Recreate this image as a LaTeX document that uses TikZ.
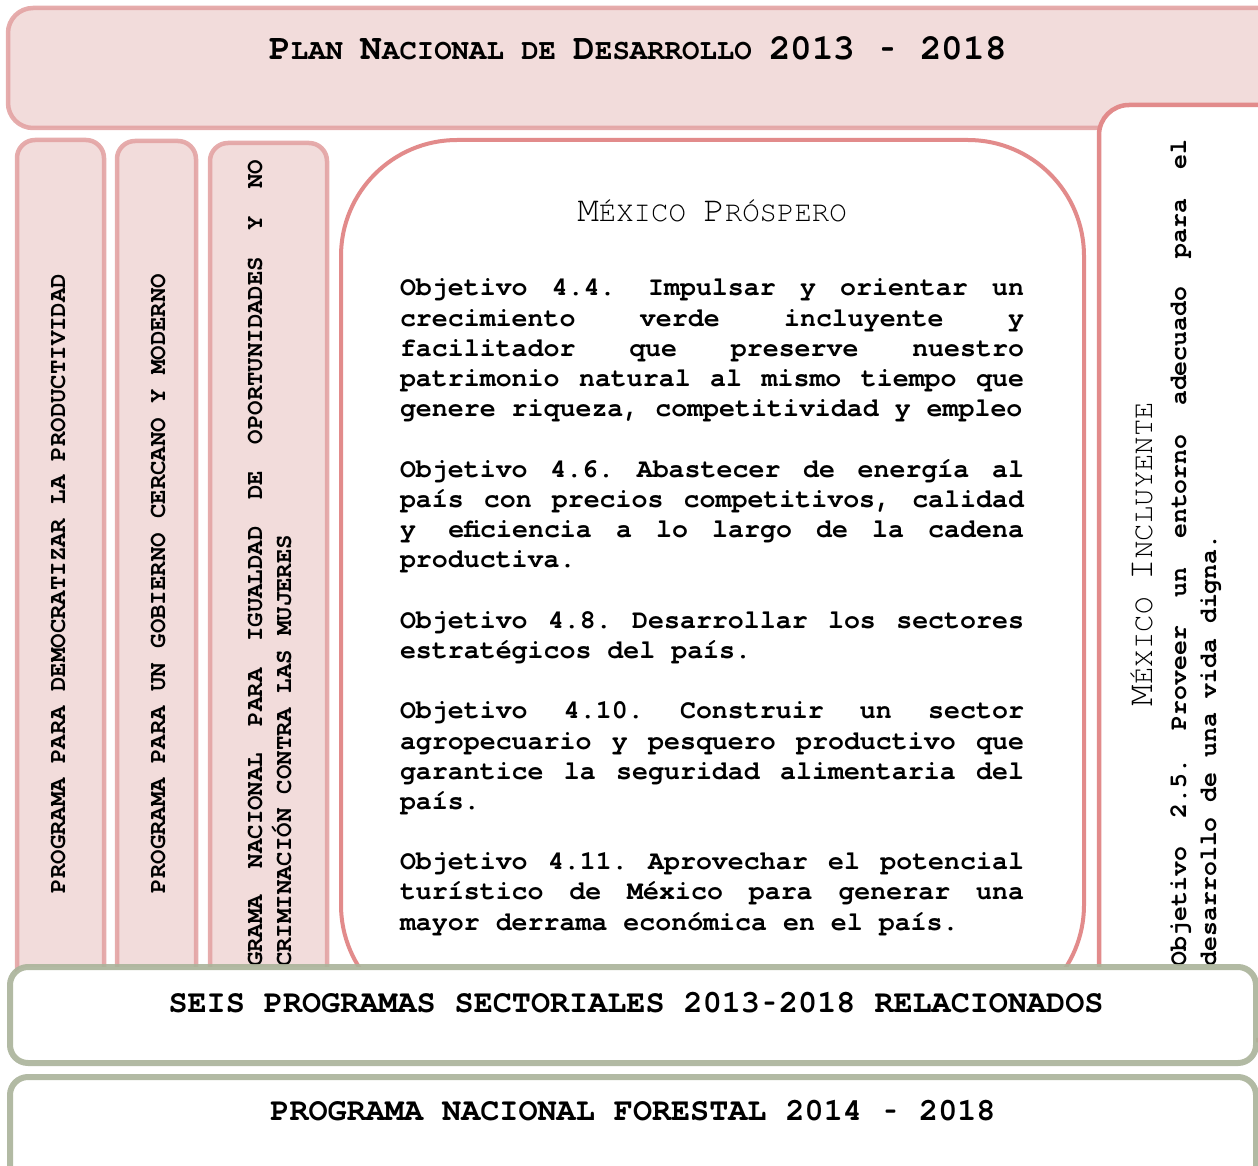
\documentclass[tikz,border=0pt]{standalone}
\usepackage{fontspec}
\newfontfamily\cour{texgyrecursor}[Extension=.otf, UprightFont=*-regular, BoldFont=*-bold, ItalicFont=*-italic, BoldItalicFont=*-bolditalic]
\definecolor{pinkfill}{HTML}{F2DCDB}
\definecolor{pinkline}{HTML}{E3A3A3}
\definecolor{midline}{HTML}{E28B8B}
\definecolor{greenline}{HTML}{AAB39A}
\newcommand\JL[2]{\hbox to #1{\spaceskip=0.6em plus 1fil\xspaceskip=0.6em plus 1fil\relax #2}}
\newcommand\NL[2]{\hbox to #1{#2\hfil}}
\newcommand\CapT[1]{{\fontsize{36}{36}\selectfont #1}}
\newcommand\hy{\hbox to 0.6em{\hss\scalebox{0.6}[1]{-}\hss}}
\tikzset{
  pinkbox/.style={fill=pinkfill, draw=pinkline, line width=4.5pt, draw opacity=0.9},
  whitebox/.style={fill=white, draw=midline, line width=4pt},
  greenbox/.style={fill=white, draw=greenline, line width=6pt, draw opacity=0.9, rounded corners=18pt},
  txt/.style={inner sep=0pt, outer sep=0pt},
}
\begin{document}
\begin{tikzpicture}[x=1pt,y=-1pt]
\useasboundingbox (0,0) rectangle (1258,1166);
\clip (0,0) rectangle (1258,1166);
% top box
\draw[pinkbox, rounded corners=25pt] (8,8) rectangle (1290,128);
\node[txt, anchor=base, font=\cour\bfseries\fontsize{29}{29}\selectfont] (title) at (638,60)
  {\CapT{P}LAN \CapT{N}ACIONAL DE \CapT{D}ESARROLLO \CapT{2013 \hy{} 2018}};
% columns
\draw[pinkbox, rounded corners=18pt] (17,140) rectangle (104,1050);
\draw[pinkbox, rounded corners=18pt] (117,141) rectangle (196,1050);
\draw[pinkbox, rounded corners=18pt] (210,143) rectangle (327,1050);
\node[txt, rotate=90, anchor=base west, font=\cour\bfseries\fontsize{24}{28}\selectfont] (c1) at (65,893)
  {PROGRAMA PARA DEMOCRATIZAR LA PRODUCTIVIDAD};
\node[txt, rotate=90, anchor=base west, font=\cour\bfseries\fontsize{24}{28}\selectfont] (c2) at (165,893)
  {PROGRAMA PARA UN GOBIERNO CERCANO Y MODERNO};
\node[txt, rotate=90, anchor=base west, font=\cour\bfseries\fontsize{24}{28}\selectfont] (c3a) at (262,1010)
  {\JL{850pt}{PROGRAMA NACIONAL PARA IGUALDAD DE OPORTUNIDADES Y NO}};
\node[txt, rotate=90, anchor=base west, font=\cour\bfseries\fontsize{24}{28}\selectfont] (c3b) at (291,1010)
  {\NL{850pt}{DISCRIMINACIÓN CONTRA LAS MUJERES}};
% middle box
\draw[whitebox, rounded corners=116pt] (341,140) rectangle (1084,1021);
\node[txt, anchor=base, font=\cour\fontsize{29}{29}\selectfont] (head) at (712,222)
  {\CapT{M}ÉXICO \CapT{P}RÓSPERO};
\node[txt, anchor=base west, font=\cour\bfseries\fontsize{26.6}{30.2}\selectfont] (body) at (400,296)
  {\vtop{\hsize=624pt\baselineskip=30.2pt\lineskiplimit=-100pt
   \JL{624pt}{Objetivo 4.4.\hfil\ Impulsar y orientar un}
   \JL{624pt}{crecimiento verde incluyente y}
   \JL{624pt}{facilitador que preserve nuestro}
   \JL{624pt}{patrimonio natural al mismo tiempo que}
   \NL{624pt}{genere riqueza, competitividad y empleo}
   \hbox{}
   \JL{624pt}{Objetivo 4.6. Abastecer de energía al}
   \JL{624pt}{país con precios competitivos, calidad}
   \JL{624pt}{y\hfil\ eficiencia a lo largo de la cadena}
   \NL{624pt}{productiva.}
   \hbox{}
   \JL{624pt}{Objetivo 4.8. Desarrollar los sectores}
   \NL{624pt}{estratégicos del país.}
   \hbox{}
   \JL{624pt}{Objetivo 4.10. Construir un sector}
   \JL{624pt}{agropecuario y pesquero productivo que}
   \JL{624pt}{garantice la seguridad alimentaria del}
   \NL{624pt}{país.}
   \hbox{}
   \JL{624pt}{Objetivo 4.11. Aprovechar el potencial}
   \JL{624pt}{turístico de México para generar una}
   \NL{624pt}{mayor derrama económica en el país.}
  }};
% right box
\draw[whitebox, line width=4.5pt, rounded corners=30pt] (1099,105) rectangle (1320,1040);
\node[txt, rotate=90, anchor=base west, font=\cour\fontsize{29}{29}\selectfont] (rhead) at (1152,706)
  {\CapT{M}ÉXICO \CapT{I}NCLUYENTE};
\node[txt, rotate=90, anchor=base west, font=\cour\bfseries\fontsize{24.8}{30}\selectfont] (r1) at (1186,966)
  {\JL{826pt}{Objetivo 2.5. Proveer un entorno adecuado para el}};
\node[txt, rotate=90, anchor=base west, font=\cour\bfseries\fontsize{24.8}{30}\selectfont] (r2) at (1216,966)
  {\NL{826pt}{desarrollo de una vida digna.}};
% bottom boxes
\draw[greenbox] (10,967) rectangle (1256,1063);
\node[txt, anchor=base, font=\cour\bfseries\fontsize{31.8}{32}\selectfont] (seis) at (636,1012)
  {SEIS PROGRAMAS SECTORIALES 2013\hy{}2018 RELACIONADOS};
\draw[greenbox] (10,1077) rectangle (1256,1200);
\node[txt, anchor=base, font=\cour\bfseries\fontsize{31.8}{32}\selectfont] (forestal) at (633,1120)
  {PROGRAMA NACIONAL FORESTAL 2014 \hy{} 2018};
\end{tikzpicture}
\end{document}
